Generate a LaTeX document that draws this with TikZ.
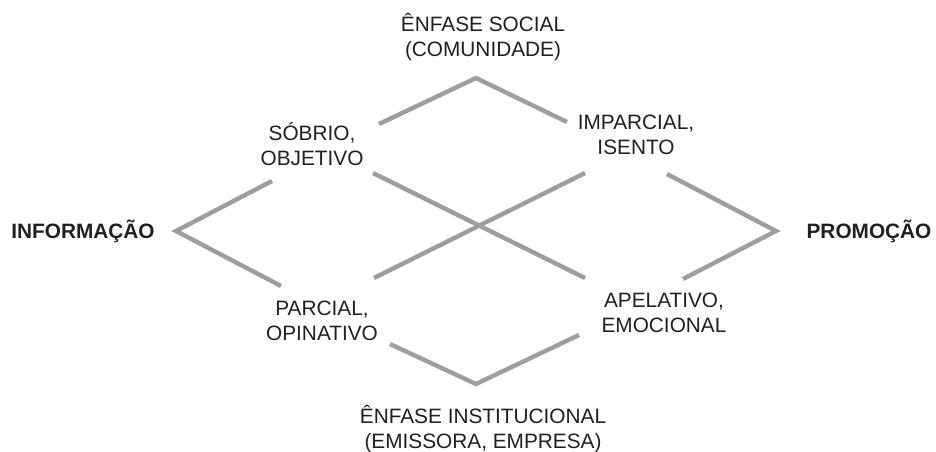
\documentclass[tikz,border=0pt]{standalone}
\usepackage{fontspec}
\setmainfont{Liberation Sans}
\usepackage{tikz}
\definecolor{linegray}{RGB}{158,158,158}
\definecolor{textdark}{RGB}{35,31,32}
\usetikzlibrary{positioning,calc}

\begin{document}
\begin{tikzpicture}[
    x=1pt, y=-1pt,
    quality/.style={align=center, font=\fontsize{20.8}{24.5}\selectfont, text=textdark, inner sep=0pt},
    pole/.style={font=\fontsize{20.8}{24.5}\selectfont\bfseries, text=textdark, inner sep=0pt},
    bar/.style={draw=linegray, line width=4.4pt, line join=miter}
]
\useasboundingbox (0,0) rectangle (936,451);

% Poles
\node[pole] (info) at (83,231) {INFORMAÇÃO};
\node[pole] (promo) at (869,231) {PROMOÇÃO};

% Emphasis
\node[quality] (social) at (483,37) {ÊNFASE SOCIAL\\(COMUNIDADE)};
\node[quality] (instit) at (483,429) {ÊNFASE INSTITUCIONAL\\(EMISSORA, EMPRESA)};

% Qualities
\node[quality] (sobrio) at (312,144) {SÓBRIO,\\OBJETIVO};
\node[quality] (imparc) at (636,135) {IMPARCIAL,\\ISENTO};
\node[quality] (parc) at (322,321) {PARCIAL,\\OPINATIVO};
\node[quality] (apel) at (664,313) {APELATIVO,\\EMOCIONAL};

% Bends and line ends
\coordinate (infoTip) at (176,231);
\coordinate (promoTip) at (776,231);
\coordinate (socialTip) at (476,78);
\coordinate (institTip) at (476,384);
\coordinate (sobrioUp) at (379,124);
\coordinate (sobrioLeft) at (272,181);
\coordinate (sobrioDown) at (373,173);
\coordinate (imparcUp) at (567,122);
\coordinate (imparcRight) at (667,174);
\coordinate (imparcDown) at (585,173);
\coordinate (parcLeft) at (281,286);
\coordinate (parcUp) at (374,278);
\coordinate (parcDown) at (390,344);
\coordinate (apelRight) at (683,279);
\coordinate (apelUp) at (585,278);
\coordinate (apelDown) at (579,335);

% Lines
\draw[bar] (sobrioUp) -- (socialTip) -- (imparcUp);
\draw[bar] (sobrioLeft) -- (infoTip) -- (parcLeft);
\draw[bar] (imparcRight) -- (promoTip) -- (apelRight);
\draw[bar] (parcDown) -- (institTip) -- (apelDown);
\draw[bar] (sobrioDown) -- (apelUp);
\draw[bar] (parcUp) -- (imparcDown);

\end{tikzpicture}
\end{document}
